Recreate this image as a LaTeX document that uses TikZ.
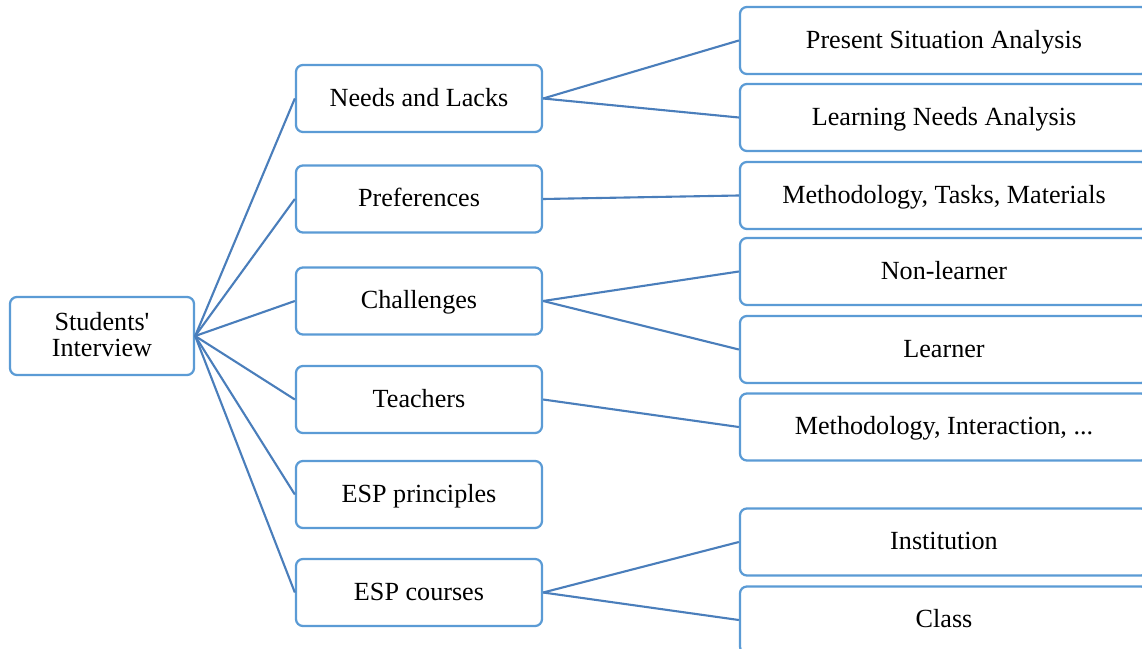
\documentclass[tikz,border=0pt]{standalone}
\usepackage{fontspec}
\setmainfont{Liberation Serif}
\usepackage{xcolor}
\usepackage{tikz}
\usetikzlibrary{positioning}
\definecolor{boxBlue}{HTML}{5B9BD5}
\definecolor{lineBlue}{HTML}{4A7EBB}

\begin{document}
\begin{tikzpicture}[x=0.025cm,y=-0.025cm,
    hub/.style={rectangle,rounded corners=5pt,draw=boxBlue,line width=1.6pt,fill=white,
                minimum width=4.6cm,minimum height=1.95cm,align=center,inner sep=0pt,
                font=\fontsize{18.6}{18.9}\selectfont,text height=32.9pt,text depth=3.2pt},
    theme/.style={hub,minimum width=6.15cm,minimum height=1.675cm,text height=14pt},
    leaf/.style={theme,minimum width=10.2cm},
    link/.style={line width=1.5pt,lineBlue}
]
    \useasboundingbox (0,0) rectangle (1142,649);

    % Interview
    \node[hub] (interview) at (102,336) {Students\textquotesingle\\Interview};

    % Themes
    \node[theme] (needs)      at (419,98.5)  {Needs and Lacks};
    \node[theme] (prefs)      at (419,199)   {Preferences};
    \node[theme] (challenges) at (419,301)   {Challenges};
    \node[theme] (teachers)   at (419,399.5) {Teachers};
    \node[theme] (principles) at (419,494.5) {ESP principles};
    \node[theme] (courses)    at (419,592.5) {ESP courses};

    % Details
    \node[leaf] (psa)         at (944,40.5)  {Present Situation Analysis};
    \node[leaf] (lna)         at (944,117.5) {Learning Needs Analysis};
    \node[leaf] (methods)     at (944,195.5) {Methodology, Tasks, Materials};
    \node[leaf] (nonlearner)  at (944,271.5) {Non-learner};
    \node[leaf] (learner)     at (944,349.5) {Learner};
    \node[leaf] (interaction) at (944,427)   {Methodology, Interaction, ...};
    \node[leaf] (institution) at (944,542)   {Institution};
    \node[leaf] (class)       at (944,620)   {Class};

    % Links
    \foreach \t in {needs,prefs,challenges,teachers,principles,courses}
        \draw[link] (interview.east) -- (\t.west);
    \draw[link] (needs.east) -- (psa.west);
    \draw[link] (needs.east) -- (lna.west);
    \draw[link] (prefs.east) -- (methods.west);
    \draw[link] (challenges.east) -- (nonlearner.west);
    \draw[link] (challenges.east) -- (learner.west);
    \draw[link] (teachers.east) -- (interaction.west);
    \draw[link] (courses.east) -- (institution.west);
    \draw[link] (courses.east) -- (class.west);
\end{tikzpicture}
\end{document}
